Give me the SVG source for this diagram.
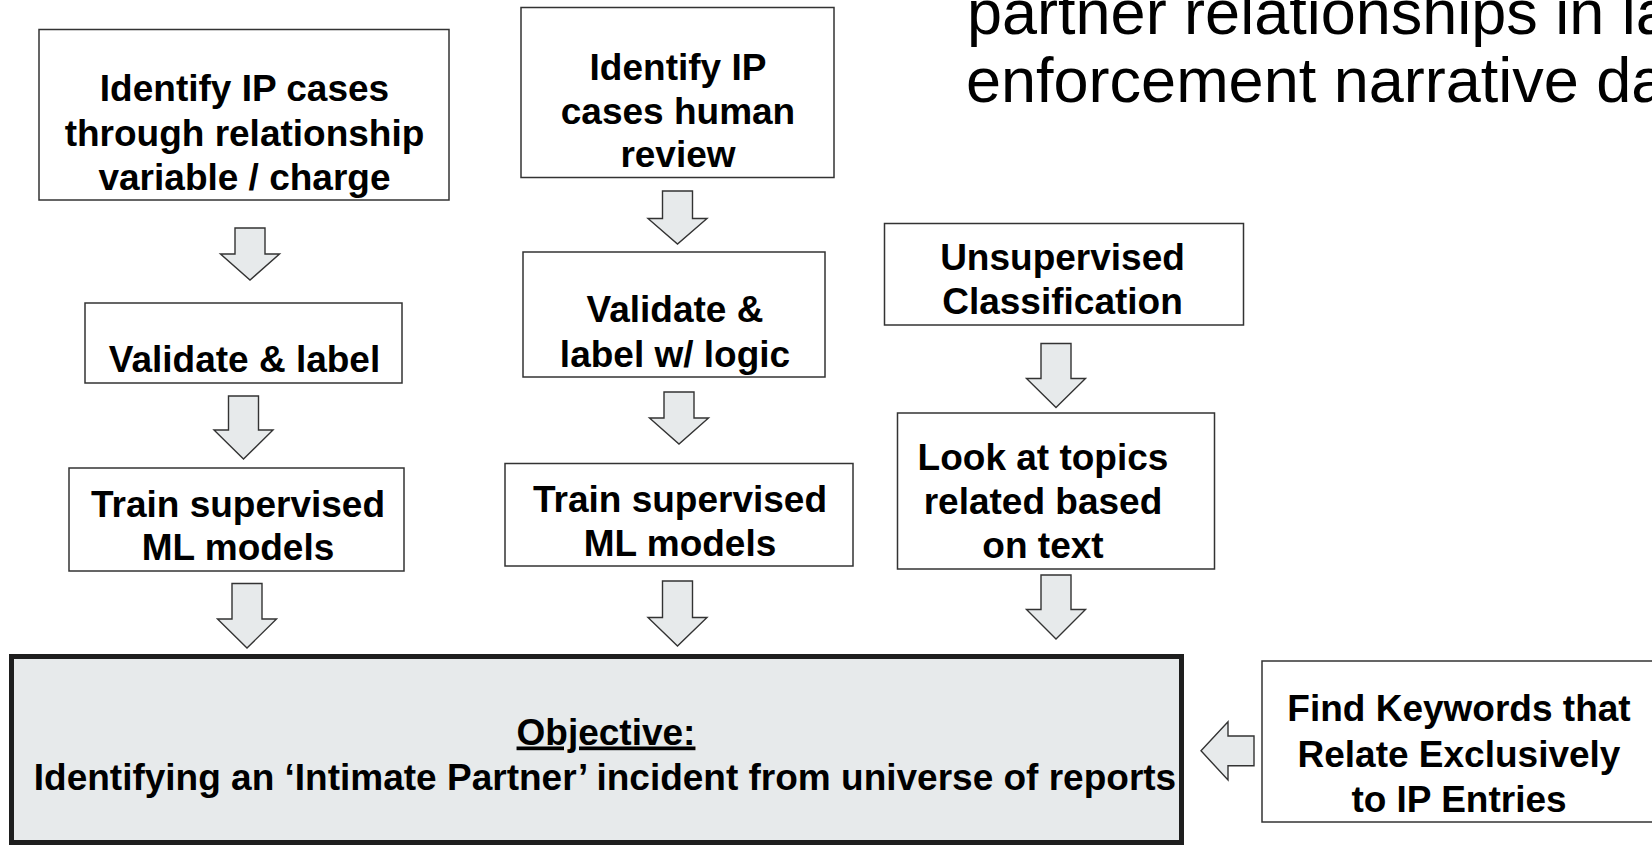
<svg xmlns="http://www.w3.org/2000/svg" width="1652" height="845" viewBox="0 0 1652 845">
<style>
.box{fill:#ffffff;stroke:#333333;stroke-width:1.5}
.obj{fill:#e7eaeb;stroke:#1e1e1e;stroke-width:5}
.arr{fill:#e7eaeb;stroke:#333333;stroke-width:1.4;stroke-linejoin:miter}
.t{font-family:"Liberation Sans",Arial,Helvetica,sans-serif;font-weight:bold;font-size:37px;fill:#000000;text-anchor:middle}
.title{font-family:"Liberation Sans",Arial,Helvetica,sans-serif;font-size:63px;fill:#000000}
</style>
<rect width="1652" height="845" fill="#ffffff"/>
<g id="title">
<text class="title" x="967" y="34">partner relationships in la</text>
<text class="title" x="966" y="102">enforcement narrative da</text>
</g>
<g id="connectors">
<path class="arr" d="M235,228 H265 V254 H279.5 L250,280 L220.5,254 H235 Z"/>
<path class="arr" d="M228.5,396 H258.5 V430 H273 L243.5,459 L214,430 H228.5 Z"/>
<path class="arr" d="M232,583.5 H262 V619 H276.5 L247,648 L217.5,619 H232 Z"/>
<path class="arr" d="M662.5,191 H692.5 V218.5 H707 L677.5,244 L648,218.5 H662.5 Z"/>
<path class="arr" d="M664,392 H694 V418 H708.5 L679,444 L649.5,418 H664 Z"/>
<path class="arr" d="M662.5,581 H692.5 V617.5 H707 L677.5,646 L648,617.5 H662.5 Z"/>
<path class="arr" d="M1041,343.5 H1071 V378.5 H1085.5 L1056,407.5 L1026.5,378.5 H1041 Z"/>
<path class="arr" d="M1041,575 H1071 V609.5 H1085.5 L1056,639 L1026.5,609.5 H1041 Z"/>
<path class="arr" d="M1254,736 V765.7 H1228 V780 L1201,750.8 L1228,721.7 V736 Z"/>
</g>
<g id="node-identify-relationship">
<rect class="box" x="39" y="29.5" width="410" height="170.5"/>
<text class="t" x="244.5" y="101">Identify IP cases</text>
<text class="t" x="244.5" y="145.5">through relationship</text>
<text class="t" x="244.5" y="190">variable / charge</text>
</g>
<g id="node-validate-label">
<rect class="box" x="85" y="303" width="317" height="80"/>
<text class="t" x="244.5" y="371.5">Validate &amp; label</text>
</g>
<g id="node-train-1">
<rect class="box" x="69" y="468" width="335" height="103"/>
<text class="t" x="238" y="516.5">Train supervised</text>
<text class="t" x="238" y="560">ML models</text>
</g>
<g id="node-identify-human">
<rect class="box" x="521" y="7.5" width="313" height="170"/>
<text class="t" x="678" y="80">Identify IP</text>
<text class="t" x="678" y="124">cases human</text>
<text class="t" x="678" y="167">review</text>
</g>
<g id="node-validate-logic">
<rect class="box" x="523" y="252" width="302" height="125"/>
<text class="t" x="675" y="321.5">Validate &amp;</text>
<text class="t" x="675" y="366.5">label w/ logic</text>
</g>
<g id="node-train-2">
<rect class="box" x="505" y="463.5" width="348" height="102.5"/>
<text class="t" x="680" y="511.5">Train supervised</text>
<text class="t" x="680" y="555.5">ML models</text>
</g>
<g id="node-unsupervised">
<rect class="box" x="884.5" y="223.5" width="359" height="101.5"/>
<text class="t" x="1062.5" y="270">Unsupervised</text>
<text class="t" x="1062.5" y="314.3">Classification</text>
</g>
<g id="node-topics">
<rect class="box" x="897.5" y="413" width="317" height="156"/>
<text class="t" x="1043" y="470">Look at topics</text>
<text class="t" x="1043" y="514.3">related based</text>
<text class="t" x="1043" y="558.3">on text</text>
</g>
<g id="node-keywords">
<rect class="box" x="1262" y="661" width="400" height="161"/>
<text class="t" x="1459" y="720.7">Find Keywords that</text>
<text class="t" x="1459" y="766.7">Relate Exclusively</text>
<text class="t" x="1459" y="811.7">to IP Entries</text>
</g>
<g id="node-objective">
<rect class="obj" x="11.5" y="656.5" width="1170" height="186"/>
<text class="t" x="606" y="744.5" text-decoration="underline">Objective:</text>
<text class="t" x="605" y="790">Identifying an ‘Intimate Partner’ incident from universe of reports</text>
</g>
</svg>
